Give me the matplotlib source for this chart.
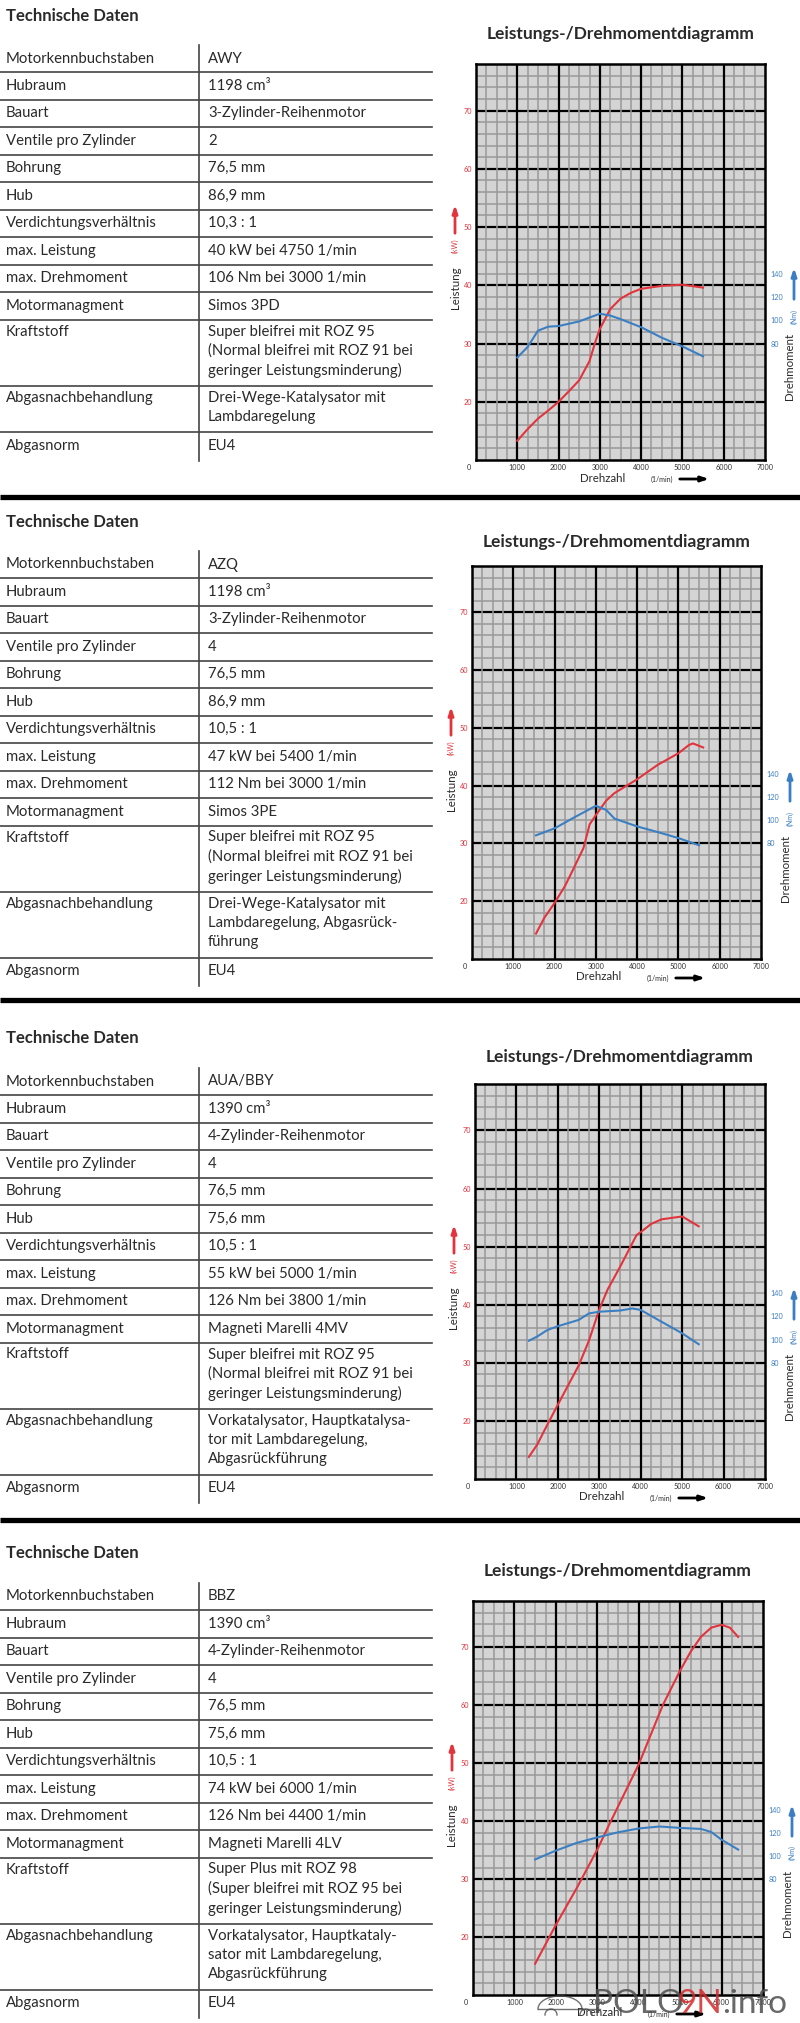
import numpy as np
import matplotlib
matplotlib.use("Agg")
import matplotlib.pyplot as plt
from matplotlib.transforms import ScaledTranslation

plt.rcParams['font.family'] = ['Lato', 'DejaVu Sans']

# ---------- data ----------
row_labels = ["Motorkennbuchstaben", "Hubraum", "Bauart", "Ventile pro Zylinder",
              "Bohrung", "Hub", "Verdichtungsverhältnis", "max. Leistung",
              "max. Drehmoment", "Motormanagment", "Kraftstoff",
              "Abgasnachbehandlung", "Abgasnorm"]

awy_values = ["AWY", "1198 cm³", "3-Zylinder-Reihenmotor", "2", "76,5 mm", "86,9 mm",
              "10,3 : 1", "40 kW bei 4750 1/min", "106 Nm bei 3000 1/min", "Simos 3PD",
              "Super bleifrei mit ROZ 95\n(Normal bleifrei mit ROZ 91 bei\ngeringer Leistungsminderung)",
              "Drei-Wege-Katalysator mit\nLambdaregelung", "EU4"]
azq_values = ["AZQ", "1198 cm³", "3-Zylinder-Reihenmotor", "4", "76,5 mm", "86,9 mm",
              "10,5 : 1", "47 kW bei 5400 1/min", "112 Nm bei 3000 1/min", "Simos 3PE",
              "Super bleifrei mit ROZ 95\n(Normal bleifrei mit ROZ 91 bei\ngeringer Leistungsminderung)",
              "Drei-Wege-Katalysator mit\nLambdaregelung, Abgasrück-\nführung", "EU4"]
aua_values = ["AUA/BBY", "1390 cm³", "4-Zylinder-Reihenmotor", "4", "76,5 mm", "75,6 mm",
              "10,5 : 1", "55 kW bei 5000 1/min", "126 Nm bei 3800 1/min", "Magneti Marelli 4MV",
              "Super bleifrei mit ROZ 95\n(Normal bleifrei mit ROZ 91 bei\ngeringer Leistungsminderung)",
              "Vorkatalysator, Hauptkatalysa-\ntor mit Lambdaregelung,\nAbgasrückführung", "EU4"]
bbz_values = ["BBZ", "1390 cm³", "4-Zylinder-Reihenmotor", "4", "76,5 mm", "75,6 mm",
              "10,5 : 1", "74 kW bei 6000 1/min", "126 Nm bei 4400 1/min", "Magneti Marelli 4LV",
              "Super Plus mit ROZ 98\n(Super bleifrei mit ROZ 95 bei\ngeringer Leistungsminderung)",
              "Vorkatalysator, Hauptkataly-\nsator mit Lambdaregelung,\nAbgasrückführung", "EU4"]

# power curves (kW) and torque curves (Nm) over rpm
awy_kw_rpm = [1000, 1250, 1500, 1750, 2000, 2250, 2500, 2750, 2900, 3000, 3250, 3500, 3750, 4000, 4500, 5000, 5500]
awy_kw = [13.3, 15.3, 17.1, 18.5, 20.0, 21.8, 23.7, 27.0, 30.5, 32.5, 35.9, 37.7, 38.7, 39.4, 39.9, 40.1, 39.6]
awy_nm_rpm = [1000, 1250, 1500, 1750, 2000, 2500, 3000, 3250, 3500, 4000, 4500, 5000, 5500]
awy_nm = [68, 77, 91, 94.5, 95, 99, 105.6, 104, 101, 94, 85, 77.5, 69]

azq_kw_rpm = [1550, 1750, 2000, 2250, 2450, 2700, 2850, 3000, 3250, 3450, 4000, 4500, 5000, 5250, 5350, 5600]
azq_kw = [14.4, 17.1, 19.7, 22.6, 25.5, 29.2, 33.3, 34.9, 37.4, 38.7, 41.1, 43.6, 45.6, 47.0, 47.3, 46.6]
azq_nm_rpm = [1550, 2000, 2450, 3000, 3250, 3450, 4000, 4500, 5000, 5500]
azq_nm = [87, 93, 102, 112.5, 109, 101.5, 94.7, 89.8, 84.6, 78.4]

aua_kw_rpm = [1300, 1500, 1750, 2000, 2500, 2750, 3000, 3200, 3500, 3900, 4000, 4250, 4500, 5000, 5400]
aua_kw = [13.8, 15.9, 19.4, 22.8, 29.5, 33.8, 39.2, 42.6, 46.5, 52.0, 52.5, 53.9, 54.7, 55.2, 53.5]
aua_nm_rpm = [1300, 1500, 1750, 2000, 2500, 2750, 3000, 3500, 3800, 4000, 4500, 5000, 5400]
aua_nm = [99, 102.6, 108.3, 111.5, 116.9, 122.5, 124, 125, 126.8, 125.5, 115.4, 105.4, 96]

bbz_kw_rpm = [1500, 2000, 2500, 3000, 3300, 4000, 4580, 5000, 5250, 5500, 5750, 6000, 6200, 6400]
bbz_kw = [15.4, 22.1, 28.4, 35.1, 39.6, 49.8, 60.0, 66.0, 69.2, 71.8, 73.4, 73.9, 73.4, 71.8]
bbz_nm_rpm = [1500, 2000, 2500, 3000, 3500, 4000, 4500, 5000, 5500, 5750, 6000, 6400]
bbz_nm = [97, 104.6, 111.2, 116, 120.4, 123.7, 125.4, 124.2, 123.3, 120.7, 114, 105.5]

kw_ticks = [20, 30, 40, 50, 60, 70]
nm_ticks = [80, 100, 120, 140]
rpm_ticks = [0, 1000, 2000, 3000, 4000, 5000, 6000, 7000]

# ---------- layout (pixels) ----------
W, H = 800, 2023
RED = '#e2343c'
BLUE = '#3b7fc2'
TXT = '#2a2a2a'

panels = [
    dict(vals=awy_values, kw=(awy_kw_rpm, awy_kw), nm=(awy_nm_rpm, awy_nm),
         head=16, title=34, ttop=45, box=(476, 765, 64, 460)),
    dict(vals=azq_values, kw=(azq_kw_rpm, azq_kw), nm=(azq_nm_rpm, azq_nm),
         head=522, title=542, ttop=551, box=(472, 761, 566, 959)),
    dict(vals=aua_values, kw=(aua_kw_rpm, aua_kw), nm=(aua_nm_rpm, aua_nm),
         head=1038, title=1057, ttop=1068, box=(475, 765, 1084, 1479)),
    dict(vals=bbz_values, kw=(bbz_kw_rpm, bbz_kw), nm=(bbz_nm_rpm, bbz_nm),
         head=1553, title=1571, ttop=1583, box=(473, 763, 1601, 1995)),
]
separators = [496.5, 999.5, 1520]

fig = plt.figure(figsize=(W / 100, H / 100), dpi=100)
bg = fig.add_axes([0, 0, 1, 1], zorder=0)
bg.set_xlim(0, W)
bg.set_ylim(H, 0)
bg.axis('off')

for s in separators:
    bg.plot([0, W], [s, s], color='black', lw=3.8, solid_capstyle='butt')


def draw_table(p):
    top = p['ttop']
    bg.text(6, p['head'], "Technische Daten", fontsize=12, fontweight='bold',
            color=TXT, va='center', ha='left')
    y = top
    lines = []
    for i, (lab, val) in enumerate(zip(row_labels, p['vals'])):
        parts = val.split('\n')
        if i == 0:
            h = 27
        else:
            h = 27.5 + 19.3 * (len(parts) - 1)
        if len(parts) == 1:
            cy = [y + h / 2]
        else:
            cy = [y + 12 + 19.3 * k for k in range(len(parts))]
        bg.text(6, cy[0], lab, fontsize=10.7, color=TXT, va='center', ha='left')
        for c, t in zip(cy, parts):
            bg.text(208, c, t, fontsize=10.7, color=TXT, va='center', ha='left')
        y += h
        if i < len(row_labels) - 1:
            lines.append(y)
    for ly in lines:
        bg.plot([0, 432], [ly, ly], color='#444444', lw=1.2)
    bg.plot([199, 199], [top, y + 1], color='#444444', lw=1.2)


def draw_chart(p):
    l, r, t, b = p['box']
    ax = fig.add_axes([l / W, 1 - b / H, (r - l) / W, (b - t) / H], zorder=2)
    ax.set_facecolor('#d4d4d4')
    ax.set_xlim(0, 7000)
    ax.set_ylim(10, 78)

    # grid: horizontal major, then minor, then vertical major on top
    for v in np.arange(20, 71, 10):
        ax.axhline(v, color='black', lw=1.6, zorder=1)
    for v in np.arange(12, 78, 2):
        if v % 10:
            ax.axhline(v, color='#999999', lw=1.1, zorder=1.2)
    for v in np.arange(250, 7000, 250):
        if v % 1000:
            ax.axvline(v, color='#999999', lw=1.1, zorder=1.5)
    for v in np.arange(1000, 7000, 1000):
        ax.axvline(v, color='black', lw=1.6, zorder=2)

    ax.plot(p['kw'][0], p['kw'][1], color=RED, lw=1.5, zorder=5)

    ax.set_yticks(kw_ticks)
    ax.set_yticklabels([str(v) for v in kw_ticks])
    ax.set_xticks(rpm_ticks)
    ax.set_xticklabels([str(v) for v in rpm_ticks])
    ax.tick_params(axis='y', length=0, pad=3, labelsize=5.2, labelcolor=RED)
    ax.tick_params(axis='x', length=0, pad=3, labelsize=5.2, labelcolor='#333333')
    zero = ax.get_xticklabels()[0]
    zero.set_transform(zero.get_transform() + ScaledTranslation(-0.07, 0, fig.dpi_scale_trans))
    for sp in ax.spines.values():
        sp.set_color('black')
        sp.set_linewidth(1.8)
        sp.set_zorder(6)

    ax2 = ax.twinx()
    ax2.set_ylim(-20, 320)
    ax2.plot(p['nm'][0], p['nm'][1], color=BLUE, lw=1.5, zorder=5)
    ax2.set_yticks(nm_ticks)
    ax2.set_yticklabels([str(v) for v in nm_ticks])
    ax2.tick_params(axis='y', length=0, pad=4, labelsize=5.2, labelcolor=BLUE)
    for sp in ax2.spines.values():
        sp.set_visible(False)

    # titles and axis labels
    bg.text((l + r) / 2, p['title'], "Leistungs-/Drehmomentdiagramm", fontsize=12.5,
            fontweight='bold', color=TXT, ha='center', va='center')
    bg.text(l - 21, t + 224, "Leistung", rotation=90, fontsize=8.3, color=TXT,
            ha='center', va='center')
    bg.text(l - 21, t + 182, "(kW)", rotation=90, fontsize=5, color=RED,
            ha='center', va='center')
    bg.annotate("", xy=(l - 21, t + 138), xytext=(l - 21, t + 172),
                arrowprops=dict(arrowstyle='-|>,head_length=0.45,head_width=0.15',
                                color=RED, lw=2))
    bg.text(r + 25, t + 302, "Drehmoment", rotation=90, fontsize=8.3, color=TXT,
            ha='center', va='center')
    bg.text(r + 29, t + 252, "(Nm)", rotation=90, fontsize=5, color=BLUE,
            ha='center', va='center')
    bg.annotate("", xy=(r + 29, t + 201), xytext=(r + 29, t + 238),
                arrowprops=dict(arrowstyle='-|>,head_length=0.45,head_width=0.15',
                                color=BLUE, lw=2))
    bg.text(l + 127, b + 18, "Drehzahl", fontsize=8.3, color=TXT, ha='center', va='center')
    bg.text(l + 186, b + 19, "(1/min)", fontsize=5, color=TXT, ha='center', va='center')
    bg.annotate("", xy=(l + 236, b + 19), xytext=(l + 201, b + 19),
                arrowprops=dict(arrowstyle='-|>,head_length=0.45,head_width=0.15',
                                color='black', lw=2))


for p in panels:
    draw_table(p)
    draw_chart(p)

# watermark (site logo)
wm = fig.add_axes([0, 0, 1, 1], zorder=10)
wm.set_xlim(0, W)
wm.set_ylim(H, 0)
wm.axis('off')
wm.text(593, 2013, "POLO", fontsize=24, color='#4d4d4d', fontweight='normal',
        ha='left', va='baseline', alpha=0.85)
wm.text(677, 2013, "9N", fontsize=24, color='#d42a2a', fontweight='normal',
        ha='left', va='baseline', alpha=0.85)
wm.text(722, 2013, ".info", fontsize=24, color='#4d4d4d', fontweight='normal',
        ha='left', va='baseline', alpha=0.85)
# simple car outline next to the logo
tt = np.linspace(0, np.pi, 30)
wm.plot(560 + 22 * np.cos(tt), 2009 - 13 * np.sin(tt), color='#4d4d4d', lw=1, alpha=0.8)
wm.plot([538, 600], [2009, 2009], color='#4d4d4d', lw=1, alpha=0.8)
for cx in (551, 586):
    wm.plot(cx + 6 * np.cos(tt), 2015 - 6 * np.sin(tt), color='#4d4d4d', lw=1, alpha=0.8)

fig.savefig("out.png", dpi=100)
